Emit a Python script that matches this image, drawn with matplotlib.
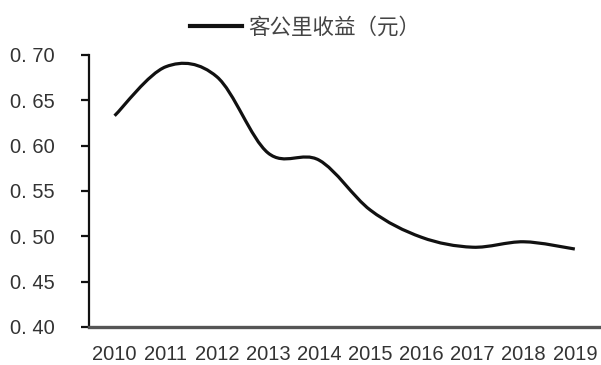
import matplotlib
matplotlib.use("Agg")
import matplotlib.pyplot as plt
from matplotlib.path import Path
from matplotlib.patches import PathPatch
from matplotlib.lines import Line2D
import numpy as np

years = ["2010", "2011", "2012", "2013", "2014", "2015", "2016", "2017", "2018", "2019"]
revenue = [0.633, 0.687, 0.676, 0.592, 0.584, 0.529, 0.499, 0.488, 0.494, 0.486]
y_ticks = [0.40, 0.45, 0.50, 0.55, 0.60, 0.65, 0.70]
series_name = "客公里收益（元）"

num_font = "Liberation Sans"

fig = plt.figure(figsize=(6.01, 3.65), dpi=100)
ax = fig.add_axes([89 / 601, 38 / 365, 1 - 89 / 601 - 0.001, (327 - 55) / 365])

x = np.arange(len(years))
y = np.array(revenue)

# smoothed line: Catmull-Rom segments expressed as cubic Bezier curves
verts = [(x[0], y[0])]
codes = [Path.MOVETO]
n = len(x)
for i in range(n - 1):
    p0 = np.array([x[max(i - 1, 0)], y[max(i - 1, 0)]])
    p1 = np.array([x[i], y[i]])
    p2 = np.array([x[i + 1], y[i + 1]])
    p3 = np.array([x[min(i + 2, n - 1)], y[min(i + 2, n - 1)]])
    c1 = p1 + (p2 - p0) / 6.0
    c2 = p2 - (p3 - p1) / 6.0
    verts += [tuple(c1), tuple(c2), tuple(p2)]
    codes += [Path.CURVE4] * 3
ax.add_patch(PathPatch(Path(verts, codes), facecolor="none", edgecolor="#111111",
                       lw=2.3, capstyle="butt", joinstyle="round"))

ax.set_xlim(-0.5, n - 0.5)
ax.set_ylim(0.40, 0.70)
ax.set_yticks(y_ticks)
ax.set_yticklabels([f"{v:.2f}".replace(".", ". ") for v in y_ticks],
                   fontfamily=num_font, fontsize=14.5, color="#333333")
ax.set_xticks(x)
ax.set_xticklabels(years, fontfamily=num_font, fontsize=14.5, color="#333333")

for side in ("top", "right"):
    ax.spines[side].set_visible(False)
ax.spines["left"].set_color("#111111")
ax.spines["left"].set_linewidth(1.6)
ax.spines["bottom"].set_color("#555555")
ax.spines["bottom"].set_linewidth(2.4)
ax.tick_params(axis="y", direction="out", length=6, width=1.6, color="#111111", pad=19)
ax.tick_params(axis="x", length=0, pad=13)

handle = Line2D([], [], color="#111111", lw=3.0)
fig.legend([handle], [series_name], loc="center", bbox_to_anchor=(0.508, 1 - 28 / 365),
           frameon=False, handlelength=2.4, handletextpad=0.3,
           labelcolor="#444444",
           prop={"family": ["Noto Sans CJK SC", "DejaVu Sans"], "size": 15.5})

fig.savefig("out.png", dpi=100)
